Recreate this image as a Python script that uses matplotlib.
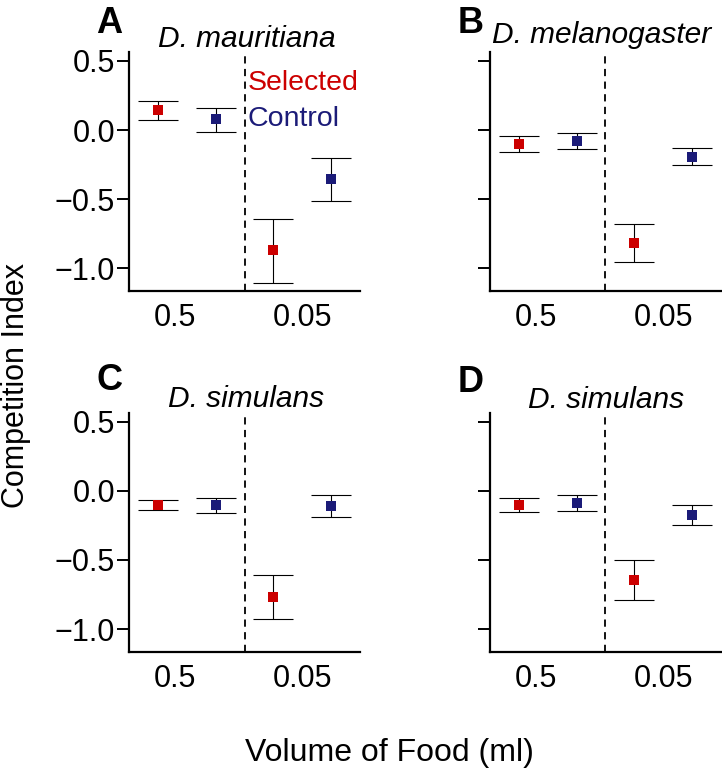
import matplotlib
matplotlib.use("Agg")
import matplotlib.pyplot as plt
import numpy as np

plt.rcParams['font.family'] = ['Liberation Sans', 'DejaVu Sans']

# ---- data ----
panel_letters = ["A", "B", "C", "D"]
species = ["D. mauritiana", "D. melanogaster", "D. simulans", "D. simulans"]
food_labels = ["0.5", "0.05"]
legend_labels = ["Selected", "Control"]

# mean, lower, upper for [0.5 ml, 0.05 ml]
sel_mean = [[0.145, -0.870], [-0.101, -0.816], [-0.103, -0.770], [-0.106, -0.645]]
sel_low  = [[0.072, -1.104], [-0.159, -0.957], [-0.139, -0.925], [-0.157, -0.790]]
sel_high = [[0.212, -0.640], [-0.046, -0.676], [-0.067, -0.612], [-0.056, -0.500]]
con_mean = [[0.077, -0.357], [-0.082, -0.193], [-0.103, -0.108], [-0.089, -0.176]]
con_low  = [[-0.012, -0.512], [-0.138, -0.254], [-0.159, -0.193], [-0.147, -0.249]]
con_high = [[0.157, -0.203], [-0.024, -0.128], [-0.051, -0.031], [-0.034, -0.106]]

yticks = [0.5, 0.0, -0.5, -1.0]
ytick_labels = ["0.5", "0.0", "\u22120.5", "\u22121.0"]

RED = "#CC0000"
BLUE = "#1B1B78"

W, H = 722, 772
fig = plt.figure(figsize=(W / 100, H / 100), dpi=100)

def fx(px):
    return px / W

def fy(py):
    return 1 - py / H

# axes boxes in pixels: left, top, right, bottom
boxes = [(129, 52, 360, 291), (490, 52, 721, 291),
         (129, 412.7, 360, 651.7), (490, 412.7, 721, 651.7)]
letter_pos = [(96, 33), (458, 33), (96, 390), (458, 392)]
title_pos = [(246.5, 47), (602, 43), (246, 407), (606, 408)]

sel_x = np.array([1, 3])
con_x = np.array([2, 4])

for i in range(4):
    l, t, r, b = boxes[i]
    ax = fig.add_axes([fx(l), fy(b), (r - l) / W, (b - t) / H])
    sm = np.array(sel_mean[i]); cm = np.array(con_mean[i])
    serr = [sm - np.array(sel_low[i]), np.array(sel_high[i]) - sm]
    cerr = [cm - np.array(con_low[i]), np.array(con_high[i]) - cm]
    for x, m, e, c in [(sel_x, sm, serr, RED), (con_x, cm, cerr, BLUE)]:
        ax.errorbar(x, m, yerr=e, fmt='none', ecolor='black', elinewidth=0.8,
                    capsize=14.7, capthick=0.8, zorder=2)
        ax.plot(x, m, 's', color=c, markersize=7.5, markeredgewidth=0, zorder=3)
    ax.axvline(2.5, color='black', linestyle=(0, (4, 3)), linewidth=1.3, zorder=1)
    ax.set_xlim(0.5, 4.5)
    ax.set_ylim(-1.164, 0.564)
    for s in ['top', 'right']:
        ax.spines[s].set_visible(False)
    for s in ['left', 'bottom']:
        ax.spines[s].set_linewidth(1.6)
    ax.set_yticks(yticks)
    if i in (0, 2):
        ax.set_yticklabels(ytick_labels, fontsize=22)
    else:
        ax.set_yticklabels([])
    ax.tick_params(axis='y', direction='out', length=8.5, width=1.4, pad=1.5)
    ax.set_xticks([1.3, 3.5])
    ax.set_xticklabels(food_labels, fontsize=22)
    ax.tick_params(axis='x', length=0, pad=9)
    ax.patch.set_alpha(0)

    lx, ly = letter_pos[i]
    fig.text(fx(lx), fy(ly), panel_letters[i], fontsize=26, fontweight='bold',
             ha='left', va='baseline')
    tx, ty = title_pos[i]
    fig.text(fx(tx), fy(ty), species[i], fontsize=21.5, style='italic',
             ha='center', va='baseline')
    if i == 0:
        ax.text(0.515, 0.841, legend_labels[0], color=RED, fontsize=20.5,
                transform=ax.transAxes, ha='left', va='baseline')
        ax.text(0.515, 0.690, legend_labels[1], color=BLUE, fontsize=20.5,
                transform=ax.transAxes, ha='left', va='baseline')

fig.text(fx(1), fy(385), "Competition Index", rotation=90, fontsize=22,
         ha='left', va='center')
fig.text(fx(389), fy(761), "Volume of Food (ml)", fontsize=23,
         ha='center', va='baseline')

fig.savefig("out.png", dpi=100)
